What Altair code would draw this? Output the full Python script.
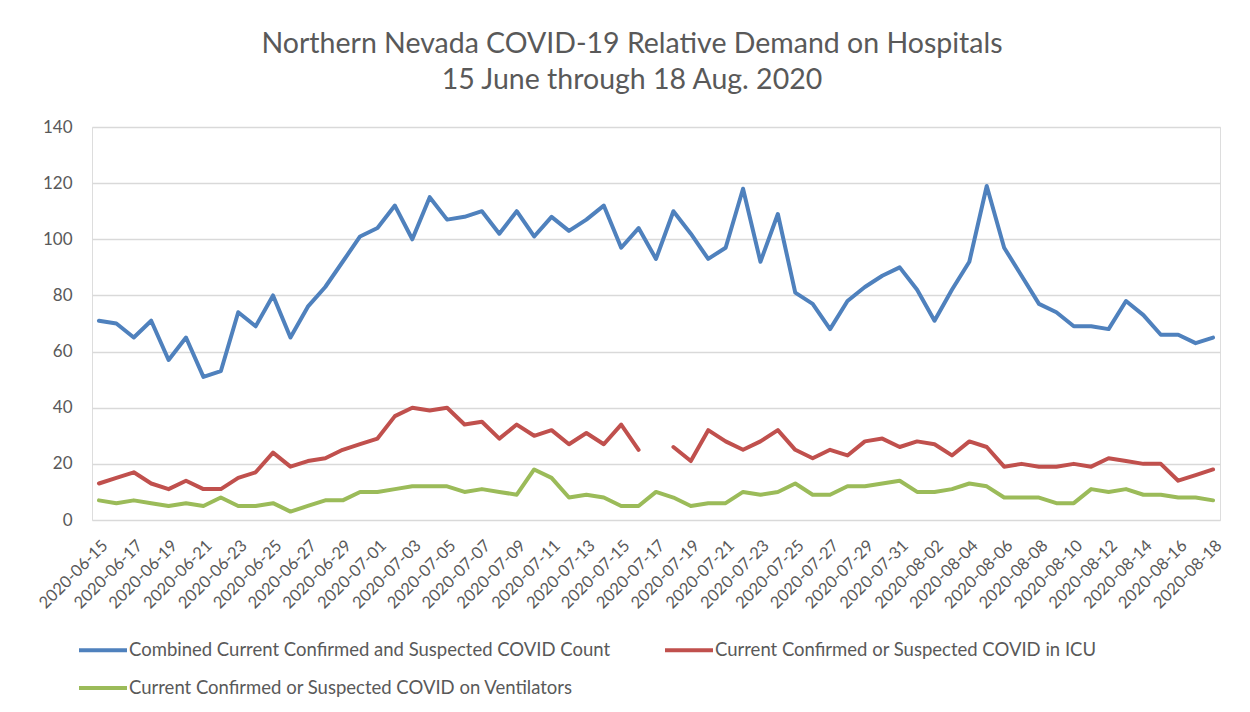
import altair as alt
import pandas as pd

dates = [d.strftime("%Y-%m-%d") for d in pd.date_range("2020-06-15", "2020-08-18", freq="D")]

combined = [71, 70, 65, 71, 57, 65, 51, 53, 74, 69, 80, 65, 76, 83, 92, 101,
            104, 112, 100, 115, 107, 108, 110, 102, 110, 101, 108, 103, 107, 112, 97, 104,
            93, 110, 102, 93, 97, 118, 92, 109, 81, 77, 68, 78, 83, 87, 90,
            82, 71, 82, 92, 119, 97, 87, 77, 74, 69, 69, 68, 78, 73, 66, 66, 63, 65]
icu = [13, 15, 17, 13, 11, 14, 11, 11, 15, 17, 24, 19, 21, 22, 25, 27,
       29, 37, 40, 39, 40, 34, 35, 29, 34, 30, 32, 27, 31, 27, 34, 25,
       None, 26, 21, 32, 28, 25, 28, 32, 25, 22, 25, 23, 28, 29, 26,
       28, 27, 23, 28, 26, 19, 20, 19, 19, 20, 19, 22, 21, 20, 20, 14, 16, 18]
vent = [7, 6, 7, 6, 5, 6, 5, 8, 5, 5, 6, 3, 5, 7, 7, 10,
        10, 11, 12, 12, 12, 10, 11, 10, 9, 18, 15, 8, 9, 8, 5, 5,
        10, 8, 5, 6, 6, 10, 9, 10, 13, 9, 9, 12, 12, 13, 14,
        10, 10, 11, 13, 12, 8, 8, 8, 6, 6, 11, 10, 11, 9, 9, 8, 8, 7]

series_names = [
    "Combined Current Confirmed and Suspected COVID Count",
    "Current Confirmed or Suspected COVID in ICU",
    "Current Confirmed or Suspected COVID on Ventilators",
]
colors = ["#4F81BD", "#C0504D", "#9BBB59"]
y_ticks = [0, 20, 40, 60, 80, 100, 120, 140]
x_ticks = dates[::2]
title_lines = ["Northern Nevada COVID-19 Relative Demand on Hospitals", "15 June through 18 Aug. 2020"]

rows = []
for name, vals in zip(series_names, [combined, icu, vent]):
    seg = 0
    for d, v in zip(dates, vals):
        if v is None:
            seg += 1
            continue
        rows.append({"date": d, "value": v, "series": name, "seg": f"{name}-{seg}"})
df = pd.DataFrame(rows)

font = "Lato"
grey = "#595959"

chart = alt.Chart(df).mark_line(strokeWidth=4, strokeJoin="round", strokeCap="round").encode(
    x=alt.X("date:O", sort=dates,
            scale=alt.Scale(type="point", padding=0.4, domain=dates),
            axis=alt.Axis(values=x_ticks, labelAngle=-45, title=None, ticks=False, domain=False,
                          grid=False, labelFontSize=16.5, labelColor=grey, labelFont=font,
                          labelPadding=17)),
    y=alt.Y("value:Q", scale=alt.Scale(domain=[0, 140], nice=False),
            axis=alt.Axis(values=y_ticks, title=None, ticks=False, domain=False,
                          gridColor="#D9D9D9", gridWidth=1.5, labelFontSize=17,
                          labelColor=grey, labelFont=font, labelPadding=20,
                          minExtent=84, maxExtent=84)),
    color=alt.Color("series:N", scale=alt.Scale(domain=series_names, range=colors),
                    legend=alt.Legend(orient="none", legendX=-15, legendY=497, columns=2,
                                      direction="horizontal",
                                      title=None, symbolType="stroke", symbolSize=2304,
                                      symbolStrokeWidth=4, labelFontSize=18.5, labelColor=grey,
                                      labelFont=font, labelLimit=1000, labelOffset=0,
                                      columnPadding=46, rowPadding=2, padding=0)),
    detail="seg:N",
).properties(
    width=1128, height=393,
    title=alt.Title(title_lines, anchor="middle", frame="group", dx=-24, fontSize=28.5,
                    font=font, fontWeight="normal", color=grey, lineHeight=36, offset=24),
    padding={"left": 0, "top": 21, "right": 10, "bottom": 10},
).configure_view(stroke=None).configure(background="white")

chart.save("out.html", embed_options={"renderer": "svg", "actions": False})
